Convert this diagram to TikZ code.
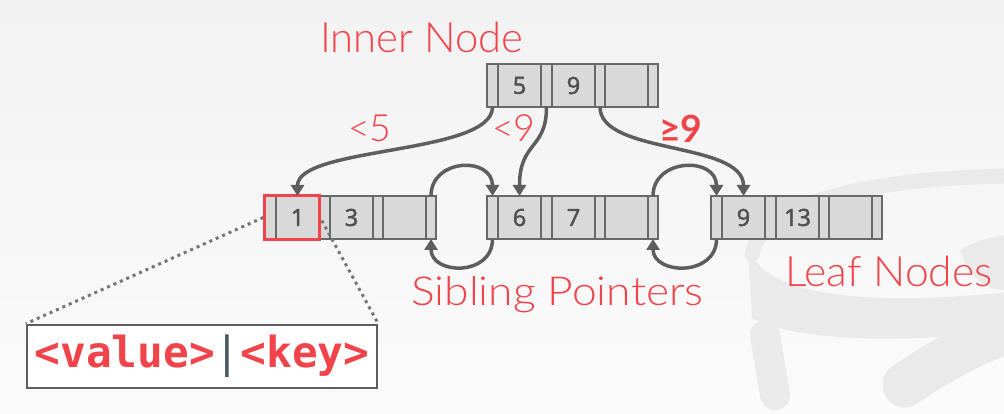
\documentclass[tikz,border=0pt]{standalone}
\usepackage{fontspec}
\usetikzlibrary{arrows.meta,fit,calc}
\newfontfamily\lblfont{Lato Light}
\newfontfamily\lblbold{Lato Bold}
\newfontfamily\cellfont[FakeBold=2.2]{Open Sans}
\newfontfamily\monofont{DejaVu Sans Mono}
\definecolor{redtxt}{HTML}{F0434A}
\definecolor{arrowgray}{HTML}{5E5E5E}
\definecolor{cellborder}{HTML}{686868}
\definecolor{cellfill}{HTML}{D9D9D9}
\definecolor{numgray}{HTML}{505050}
\definecolor{wm}{HTML}{EAEAEA}
\definecolor{bgtop}{HTML}{F2F2F2}
\definecolor{bgbot}{HTML}{FBFBFB}
\definecolor{bar}{HTML}{4A5866}
\newcommand\bpnode[6]{%
  \node[cellstrip, minimum width=11pt] (#1-s1) at ({#2+5.5},{#3+21.5}) {};
  \node[keycell] (#1-k1) at ({#2+32.5},{#3+21.5}) {#4};
  \node[cellstrip, minimum width=11pt] (#1-s2) at ({#2+59.5},{#3+21.5}) {};
  \node[keycell] (#1-k2) at ({#2+86.5},{#3+21.5}) {#5};
  \node[cellstrip, minimum width=10pt] (#1-s3) at ({#2+113},{#3+21.5}) {};
  \node[keycell] (#1-k3) at ({#2+139.5},{#3+21.5}) {#6};
  \node[cellstrip, minimum width=10pt] (#1-s4) at ({#2+166},{#3+21.5}) {};
}
\begin{document}
\begin{tikzpicture}[x=1pt,y=-1pt,
  cellstrip/.style={draw=cellborder, fill=cellfill, line width=2pt, minimum height=43pt, inner sep=0pt, outer sep=0pt},
  keycell/.style={cellstrip, minimum width=43pt, font=\cellfont\fontsize{23.5}{23.5}\selectfont, text=numgray},
  lbl/.style={font=\lblfont\fontsize{41.8}{42}\selectfont, text=redtxt, inner sep=0pt, anchor=base west},
  ptr/.style={draw=arrowgray, line width=3.5pt, -{Triangle[length=11pt,width=13pt]}},
  zoomline/.style={draw=arrowgray!85, line width=3pt, dash pattern=on 3pt off 4pt},
  wmark/.style={draw=wm, line cap=round}]
\useasboundingbox (0,0) rectangle (1004,414);
\shade[top color=bgtop, bottom color=bgbot] (0,0) rectangle (1004,414);
% watermark (faint logo)
\path[wmark, line width=15pt] (752,255) .. controls (760,200) and (880,178) .. (1010,176);
\fill[wm] (748,250) .. controls (770,300) and (880,305) .. (1010,292) -- (1010,330) .. controls (900,345) and (790,340) .. (752,318) -- cycle;
\path[wmark, line width=30pt] (765,335) -- (775,395);
\path[wmark, line width=45pt] (905,385) .. controls (940,360) and (980,340) .. (1010,330);
\fill[wm] (960,250) .. controls (975,240) and (1000,235) .. (1010,235) -- (1010,290) .. controls (990,292) and (970,280) .. (960,250) -- cycle;
% nodes
\bpnode{inner}{487}{64}{5}{9}{}
\bpnode{leafA}{265}{196}{1}{3}{}
\bpnode{leafB}{487}{196}{6}{7}{}
\bpnode{leafC}{711}{196}{9}{13}{}
\node[draw=redtxt, line width=2.5pt, inner sep=0.5pt, fit=(leafA-s1)(leafA-k1)] (sel) {};
% labels
\node[lbl] (lInner) at (320,52.5) {Inner Node};
\node[lbl, font=\lblfont\fontsize{37.5}{38}\selectfont] (l5) at (348,141.7) {<5};
\node[lbl, font=\lblfont\fontsize{37.5}{38}\selectfont] (l9) at (492,141.7) {<9};
\node[lbl, font=\lblbold\fontsize{37.5}{38}\selectfont] (lge) at (659,143) {≥9};
\node[lbl, font=\lblfont\fontsize{40}{40}\selectfont, xscale=1.11, transform shape] (lSib) at (411,305) {Sibling Pointers};
\node[lbl, xscale=1.02, transform shape] (lLeaf) at (785,286) {Leaf Nodes};
% pointers from inner node
\draw[ptr] (inner-s1.south) .. controls +(0,48) and +(0,-50) .. (leafA-k1.north);
\draw[ptr] (inner-s2.south) .. controls +(0,43) and +(0,-55) .. (leafB-k1.north);
\draw[ptr] (inner-s3.south) .. controls +(0,48) and +(0,-55) .. (leafC-k1.north);
% sibling pointers
\draw[ptr] (leafA-s4.north) .. controls +(0,-38) and +(0,-40) .. (leafB-s1.north);
\draw[ptr] (leafB-s1.south) .. controls +(0,38) and +(0,36) .. (leafA-s4.south);
\draw[ptr] (leafB-s4.north) .. controls +(0,-38) and +(0,-40) .. (leafC-s1.north);
\draw[ptr] (leafC-s1.south) .. controls +(0,38) and +(0,36) .. (leafB-s4.south);
% zoom box
\node[draw=arrowgray, line width=2.5pt, fill=white, minimum width=350pt, minimum height=63pt, inner sep=0pt] (vbox) at (202,356.5)
  {\monofont\fontsize{42.8}{43}\selectfont\textbf{\textcolor{redtxt}{<value>}}\textcolor{bar}{|}\textbf{\textcolor{redtxt}{<key>}}};
\draw[zoomline] (sel.west) -- (vbox.north west);
\draw[zoomline] ($(sel.east)+(1,3)$) -- (vbox.north east);
\end{tikzpicture}
\end{document}
